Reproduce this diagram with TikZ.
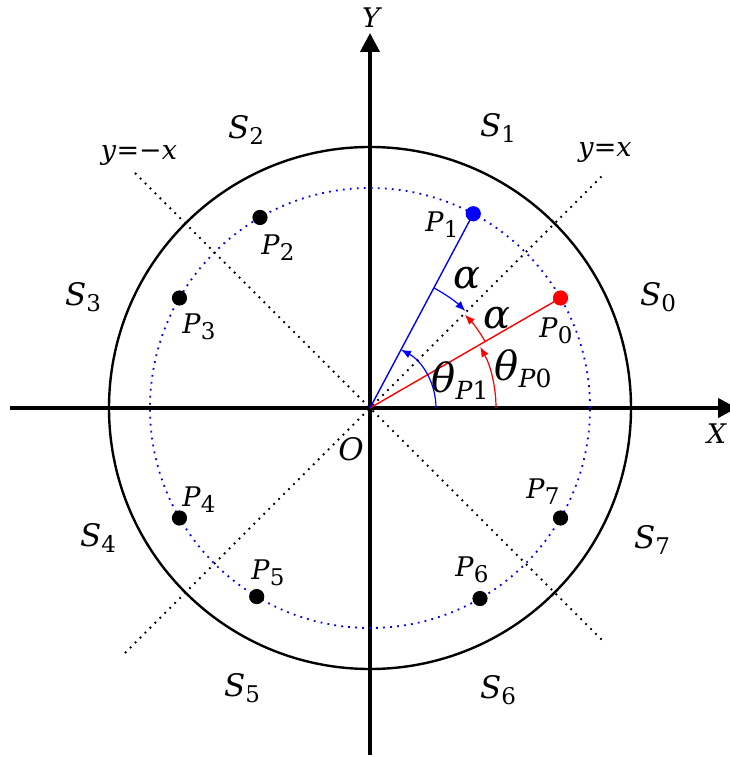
\documentclass[tikz,border=0pt]{standalone}
\usepackage{fontspec}
\setmainfont{DejaVu Serif}
\usetikzlibrary{arrows.meta}

\newcommand{\withsub}[2]{\textit{#1}\raisebox{-3pt}{\fontsize{11.5}{13}\selectfont #2}}
\newcommand{\angsub}[1]{\textit{θ}\raisebox{-3.5pt}{\fontsize{12.5}{14}\selectfont\textit{P}#1}}

\begin{document}
\begin{tikzpicture}[
    x=0.5pt,y=0.5pt,
    every node/.style={inner sep=0pt},
    axis/.style={line width=2pt,-{Triangle[length=9.5pt,width=9.5pt]}},
    dotline/.style={line width=0.9pt,dash pattern=on 0.9pt off 2.6pt},
    pnt/.style={circle,fill,minimum size=7.6pt},
    slabel/.style={font=\fontsize{15.5}{18}\selectfont},
    plabel/.style={font=\fontsize{13.5}{16}\selectfont},
    glabel/.style={font=\fontsize{20}{23}\selectfont},
    tip/.style={line width=0.6pt,-{Latex[length=5pt,width=4pt]}}
  ]
  \useasboundingbox (-370,-350) rectangle (359,408);
  \coordinate (o) at (0,0);
  \coordinate (xa) at (-360,0);
  \coordinate (xb) at (367,0);
  \coordinate (ya) at (0,-347);
  \coordinate (yb) at (0,375);
  \draw[axis] (xa) -- (xb);
  \draw[axis] (ya) -- (yb);
  \draw[line width=1.2pt] (o) circle (261);
  \draw[blue,dotline] (o) circle (220);
  \draw[dotline] (-245,-245) -- (235,235);
  \draw[dotline] (-235,235) -- (235,-235);
  \draw[red,line width=0.7pt] (o) -- (30:220);
  \draw[blue,line width=0.7pt] (o) -- (62:220);
  \node[pnt,red]  (p0) at (30:220) {};
  \node[pnt,blue] (p1) at (62:220) {};
  \node[pnt]      (p2) at (120:220) {};
  \node[pnt]      (p3) at (150:220) {};
  \node[pnt]      (p4) at (210:220) {};
  \node[pnt]      (p5) at (239:220) {};
  \node[pnt]      (p6) at (300:220) {};
  \node[pnt]      (p7) at (330:220) {};
  % angles
  \draw[blue,tip] (66,0) arc[start angle=0,end angle=62,radius=66];
  \draw[red,tip] (126,0) arc[start angle=0,end angle=29,radius=126];
  \draw[blue,tip] (62:136) arc[start angle=62,end angle=45.5,radius=136];
  \draw[red,tip] (30:133) arc[start angle=30,end angle=44.5,radius=133];
  % labels
  \node[plabel] (lp0) at (186,77)    {\withsub{P}{0}};
  \node[plabel] (lp1) at (72,183)    {\withsub{P}{1}};
  \node[plabel] (lp2) at (-92,160)   {\withsub{P}{2}};
  \node[plabel] (lp3) at (-171,81)   {\withsub{P}{3}};
  \node[plabel] (lp4) at (-171,-92)  {\withsub{P}{4}};
  \node[plabel] (lp5) at (-102,-165) {\withsub{P}{5}};
  \node[plabel] (lp6) at (102,-162)  {\withsub{P}{6}};
  \node[plabel] (lp7) at (173,-84)   {\withsub{P}{7}};
  \node[slabel] (s0) at (288,111)   {\withsub{S}{0}};
  \node[slabel] (s1) at (128,280)   {\withsub{S}{1}};
  \node[slabel] (s2) at (-124,278)  {\withsub{S}{2}};
  \node[slabel] (s3) at (-287,111)  {\withsub{S}{3}};
  \node[slabel] (s4) at (-272,-130) {\withsub{S}{4}};
  \node[slabel] (s5) at (-128,-280) {\withsub{S}{5}};
  \node[slabel] (s6) at (128,-282)  {\withsub{S}{6}};
  \node[slabel] (s7) at (282,-132)  {\withsub{S}{7}};
  \node[glabel] (a1) at (97,130)  {\textit{α}};
  \node[glabel] (a0) at (127,90)  {\textit{α}};
  \node[glabel] (t1) at (90,27)   {\angsub{1}};
  \node[glabel] (t0) at (153,39)  {\angsub{0}};
  \node[plabel] (dpos) at (235,255)  {\textit{y}=\textit{x}};
  \node[plabel] (dneg) at (-231,252) {\textit{y}=−\textit{x}};
  \node[plabel] (xl) at (347,-26) {\textit{X}};
  \node[plabel] (yl) at (2,390)   {\textit{Y}};
  \node[slabel] (ol) at (-19,-41) {\textit{O}};
\end{tikzpicture}
\end{document}
